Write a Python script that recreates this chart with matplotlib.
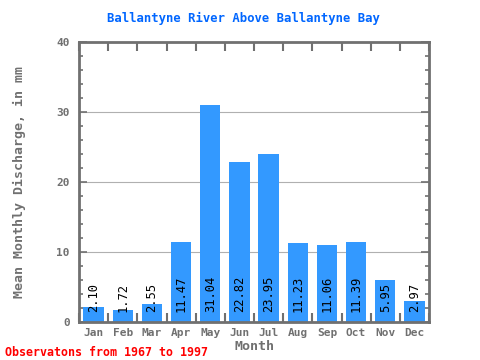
import numpy as np
import matplotlib
matplotlib.use("Agg")
import matplotlib.pyplot as plt
from matplotlib.ticker import MultipleLocator

months = ['Jan', 'Feb', 'Mar', 'Apr', 'May', 'Jun', 'Jul', 'Aug', 'Sep', 'Oct', 'Nov', 'Dec']
discharge = [2.10, 1.72, 2.55, 11.47, 31.04, 22.82, 23.95, 11.23, 11.06, 11.39, 5.95, 2.97]

plt.rcParams['font.family'] = ['DejaVu Sans Mono']
axis_gray = '#707070'

fig = plt.figure(figsize=(4.8, 3.6), dpi=100)
ax = fig.add_axes([0.1646, 0.1056, 0.7292, 0.7778])

x = np.arange(len(months))
ax.bar(x, discharge, width=0.7, color='#3399ff', zorder=2)

for xi, v in zip(x, discharge):
    ax.annotate(f'{v:.2f}', (xi, 0), xytext=(0, 7), textcoords='offset points',
                rotation=90, ha='center', va='bottom', fontsize=8.7, color='black', zorder=3)

ax.set_xlim(-0.5, len(months) - 0.5)
ax.set_ylim(0, 40)
ax.set_xticks(x)
ax.set_xticklabels(months)
ax.set_xticks(np.arange(-0.5, len(months)), minor=True)
ax.tick_params(axis='x', which='major', length=0, pad=4, labelsize=8, labelcolor=axis_gray)
ax.tick_params(axis='x', which='minor', direction='in', length=6.5, width=1.5,
               color=axis_gray, top=True, bottom=True)
ax.yaxis.set_major_locator(MultipleLocator(10))
ax.yaxis.set_minor_locator(MultipleLocator(2))
ax.tick_params(axis='y', which='major', direction='in', length=6, width=1.2, color=axis_gray,
               left=True, right=True, labelsize=8, labelcolor=axis_gray, pad=6.5)
ax.tick_params(axis='y', which='minor', direction='in', length=3, width=1.2, color=axis_gray,
               left=True, right=True)
for lbl in ax.get_xticklabels() + ax.get_yticklabels():
    lbl.set_fontweight('bold')

ax.grid(axis='y', which='major', color='#b0b0b0', linewidth=0.8, zorder=1)
for s in ax.spines.values():
    s.set_color(axis_gray)
    s.set_linewidth(2)

ax.set_xlabel('Month', fontsize=9.6, fontweight='bold', color=axis_gray, labelpad=2)
ax.set_ylabel('Mean Monthly Discharge, in mm', fontsize=9.5, fontweight='bold',
              color=axis_gray, labelpad=22)
fig.text(243 / 480, 1 - 18 / 360, 'Ballantyne River Above Ballantyne Bay', fontsize=8.8,
         fontweight='bold', color='#0066ff', ha='center', va='center')
fig.text(0.01, 0.003, 'Observatons from 1967 to 1997', fontsize=8.4, fontweight='bold',
         color='red', ha='left', va='bottom')

fig.savefig('out.png', dpi=100)
